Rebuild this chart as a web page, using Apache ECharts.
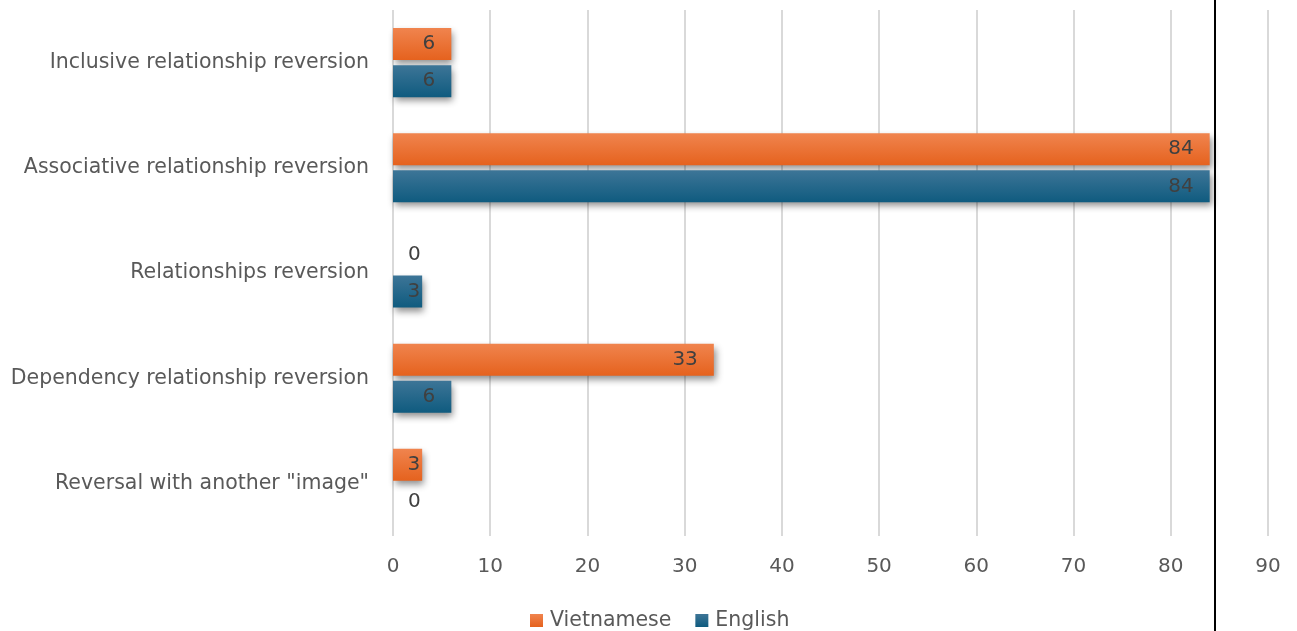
<!DOCTYPE html>
<html>
<head>
<meta charset="utf-8">
<script src="https://cdn.jsdelivr.net/npm/echarts@6/dist/echarts.min.js"></script>
<style>html,body{margin:0;padding:0;background:#fff}#c{width:1297px;height:631px}</style>
</head>
<body>
<div id="c"></div>
<script>
const categories = ['Inclusive relationship reversion', 'Associative relationship reversion', 'Relationships reversion', 'Dependency relationship reversion', 'Reversal with another "image"'];
const vietnamese = [6, 84, 0, 33, 3];
const english = [6, 84, 3, 6, 0];
const xTicks = [0, 10, 20, 30, 40, 50, 60, 70, 80, 90];

const FONT = 'DejaVu Sans';
function toData(arr) {
  return arr.map(v => {
    if (v === 0) return { value: v, label: { position: 'right', distance: 15 } };
    if (v < 5) return { value: v, label: { position: 'insideRight', distance: 2 } };
    return v;
  });
}
const shadow = { shadowColor: 'rgba(0,0,0,0.45)', shadowBlur: 7, shadowOffsetX: 2, shadowOffsetY: 4 };
const chart = echarts.init(document.getElementById('c'));
chart.setOption({
  animation: false,
  textStyle: { fontFamily: FONT },
  grid: { left: 393, right: 29, top: 10, bottom: 95, containLabel: false },
  legend: {
    bottom: -5, left: 525, itemWidth: 13, itemHeight: 13, itemGap: 24,
    icon: 'rect',
    textStyle: { fontSize: 20.5, color: '#595959', fontFamily: FONT, padding: [0, 0, 0, 2] },
    data: ['Vietnamese', 'English']
  },
  xAxis: {
    type: 'value', min: 0, max: 90, interval: 10,
    axisLine: { show: false }, axisTick: { show: false },
    splitLine: { lineStyle: { color: '#d9d9d9', width: 2 } },
    axisLabel: { fontSize: 20, color: '#595959', margin: 21, formatter: v => xTicks.includes(v) ? String(v) : '' }
  },
  yAxis: {
    type: 'category', data: categories, inverse: true,
    axisLine: { show: false }, axisTick: { show: false },
    axisLabel: { fontSize: 20.5, color: '#595959', margin: 24 }
  },
  series: [
    {
      name: 'Vietnamese', type: 'bar', data: toData(vietnamese), barWidth: 32, barGap: '16%',
      itemStyle: Object.assign({ color: new echarts.graphic.LinearGradient(0, 0, 0, 1, [{ offset: 0, color: '#f0844e' }, { offset: 1, color: '#e5621e' }]) }, shadow),
      label: { show: true, position: 'insideRight', distance: 16, fontSize: 20, color: '#404040', fontFamily: FONT }
    },
    {
      name: 'English', type: 'bar', data: toData(english), barWidth: 32,
      itemStyle: Object.assign({ color: new echarts.graphic.LinearGradient(0, 0, 0, 1, [{ offset: 0, color: '#3d7597' }, { offset: 1, color: '#0f5b7f' }]) }, shadow),
      label: { show: true, position: 'insideRight', distance: 16, fontSize: 20, color: '#404040', fontFamily: FONT }
    }
  ],
  graphic: [{ type: 'rect', shape: { x: 1214, y: 0, width: 2, height: 631 }, style: { fill: '#000' }, z: 100 }]
});
</script>
</body>
</html>
